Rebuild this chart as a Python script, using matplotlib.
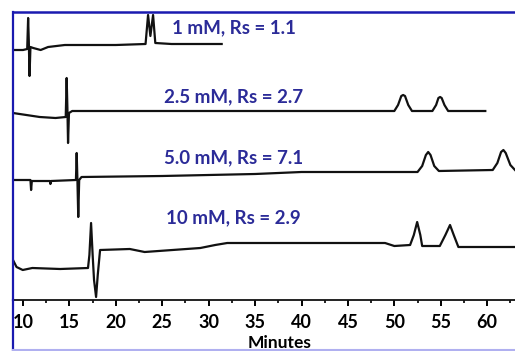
import matplotlib.pyplot as plt
from matplotlib.lines import Line2D

plt.rcParams['font.family'] = ['Lato', 'DejaVu Sans']

# retention time (min) and detector signal for each run
t_1mM = [8.92, 10.0, 10.45, 10.55, 10.62, 10.7, 10.8, 11.1, 11.9, 12.7, 14.5, 20.0,
         23.2, 23.47, 23.72, 24.01, 24.25, 26.0, 31.4]
s_1mM = [0, 0, 1, 32, 10, -26, 3, 2, 0, 3, 5, 5,
         6, 35, 14, 35, 7, 6, 6]

t_25mM = [8.92, 11.8, 13.5, 14.6, 14.7, 14.78, 14.85, 14.95, 15.3, 50.0, 50.4, 50.75,
          50.95, 51.15, 51.5, 51.9, 54.1, 54.5, 54.75, 54.93, 55.1, 55.4, 55.8, 59.8]
s_25mM = [0, -4, -5, -4, 35, 5, -30, 0, 2, 2, 8, 17,
          18, 17, 8, 2, 2, 8, 15, 16, 15, 8, 2, 2]

t_5mM = [8.92, 10.8, 10.87, 10.95, 11.5, 12.9, 12.95, 13.0, 15.7, 15.78, 15.86, 15.95,
         16.05, 16.3, 25.0, 35.0, 40.0, 50.0, 52.5, 53.0, 53.4, 53.65, 53.9, 54.3,
         54.8, 60.6, 61.1, 61.5, 61.75, 62.0, 62.5, 63.0]
s_5mM = [0, 0, -10, -1, -1, -1, -4, -1, 0, 27, 0, -37,
         0, 3, 4, 6, 8, 8, 8, 14, 25, 28, 25, 14,
         9, 10, 17, 28, 30, 27, 15, 10]

t_10mM = [8.92, 9.3, 9.97, 11.0, 14.0, 17.0, 17.15, 17.33, 17.5, 17.65, 17.87, 18.05,
          18.3, 21.5, 23.1, 29.1, 30.7, 32.0, 40.0, 49.0, 50.0, 51.7, 52.1, 52.46,
          52.8, 53.0, 54.9, 55.5, 56.0, 56.4, 56.9, 58.0, 63.0]
s_10mM = [10, 3, 0, 2, 1, 2, 15, 47, 15, -10, -27, -5,
          20, 21, 18, 22, 25, 27, 27, 27, 24, 25, 35, 48,
          35, 24, 24, 35, 45, 35, 23, 23, 23]

offsets = [250, 187, 120, 30]
labels = ['1 mM, Rs = 1.1', '2.5 mM, Rs = 2.7', '5.0 mM, Rs = 7.1', '10 mM, Rs = 2.9']
label_y = [272, 203, 142, 82]

fig = plt.figure(figsize=(5.15, 3.51), dpi=100)
ax = fig.add_axes([13 / 515, 51 / 351, 502 / 515, 288 / 351])

traces = [(t_1mM, s_1mM), (t_25mM, s_25mM), (t_5mM, s_5mM), (t_10mM, s_10mM)]
for (t, s), off in zip(traces, offsets):
    ax.plot(t, [v + off for v in s], color='#111111', lw=1.6, solid_joinstyle='round')

for lab, y in zip(labels, label_y):
    ax.text(32.7, y, lab, color='#2b2b98', fontsize=13.5, fontweight='bold',
            ha='center', va='center')

ax.set_xlim(8.92, 63.0)
ax.set_ylim(0, 288)
ax.set_xticks(range(10, 61, 5))
ax.set_xticks([12.5 + 5 * i for i in range(11)], minor=True)
ax.set_yticks([])
ax.tick_params(axis='x', which='major', direction='out', length=4, width=1.4, pad=6,
               labelsize=13)
ax.tick_params(axis='x', which='minor', direction='out', length=2.5, width=1.2)
for lbl in ax.get_xticklabels():
    lbl.set_fontweight('bold')

ax.spines['right'].set_visible(False)
ax.spines['left'].set_color('#1a1ab0')
ax.spines['left'].set_linewidth(1.6)
ax.spines['top'].set_color('#1a1ab0')
ax.spines['top'].set_linewidth(1.8)
ax.spines['bottom'].set_color('#111111')
ax.spines['bottom'].set_linewidth(1.3)

# outer frame pieces below the axes
fig.add_artist(Line2D([13 / 515, 13 / 515], [0, 51 / 351], color='#1a1ab0', lw=1.6))
fig.add_artist(Line2D([13 / 515, 1], [1.2 / 351, 1.2 / 351], color='#b0b0f0', lw=1.5))

fig.text(280 / 515, 0.5 / 351, 'Minutes', fontsize=12.5, fontweight='bold',
         ha='center', va='bottom')

fig.savefig('out.png', dpi=100)
